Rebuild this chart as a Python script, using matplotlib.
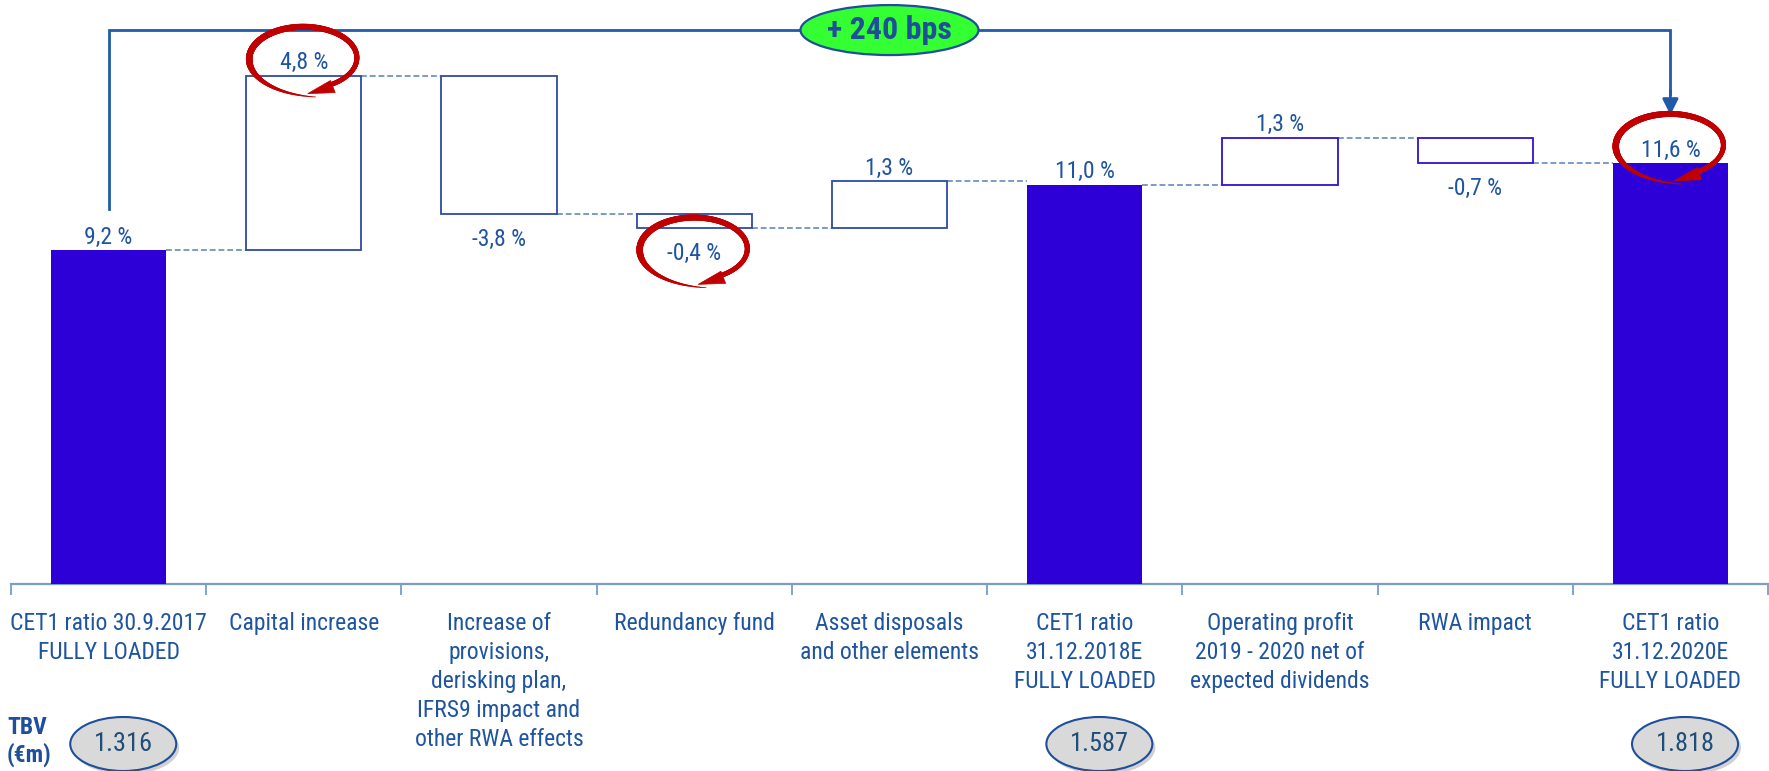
import numpy as np
import matplotlib
matplotlib.use("Agg")
import matplotlib.pyplot as plt
from matplotlib import font_manager as fm
from matplotlib.patches import Ellipse, Polygon
from matplotlib.collections import LineCollection
from matplotlib.transforms import IdentityTransform

# ---------------- data ----------------
categories = [
    "CET1 ratio 30.9.2017\nFULLY LOADED",
    "Capital increase",
    "Increase of\nprovisions,\nderisking plan,\nIFRS9 impact and\nother RWA effects",
    "Redundancy fund",
    "Asset disposals\nand other elements",
    "CET1 ratio\n31.12.2018E\nFULLY LOADED",
    "Operating profit\n2019 - 2020 net of\nexpected dividends",
    "RWA impact",
    "CET1 ratio\n31.12.2020E\nFULLY LOADED",
]
values = [9.2, 4.8, -3.8, -0.4, 1.3, 11.0, 1.3, -0.7, 11.6]
is_total = [True, False, False, False, False, True, False, False, True]
value_labels = ["9,2 %", "4,8 %", "-3,8 %", "-0,4 %", "1,3 %", "11,0 %", "1,3 %", "-0,7 %", "11,6 %"]
tbv_positions = [0, 5, 8]
tbv_values = ["1.316", "1.587", "1.818"]
tbv_title = "TBV\n(€m)"
highlight_idx = [1, 3, 8]
change_text = "+ 240 bps"
change_from, change_to = 0, 8

# ---------------- fonts ----------------
names = {f.name for f in fm.fontManager.ttflist}
FONT = next((f for f in ["Liberation Sans Narrow", "Arial Narrow", "Roboto Condensed",
                         "Open Sans Condensed", "DejaVu Sans"] if f in names), "DejaVu Sans")
plt.rcParams["font.family"] = [FONT, "DejaVu Sans"]

# ---------------- colours ----------------
TOTAL_C = "#2E00D8"
TEXT_C = "#1F55A0"
AXIS_C = "#7A9CC8"
DASH_C = "#7A9CC8"
RED_C = "#C00000"
LINE_C = "#1F5BA8"

W, H = 1769, 771
fig = plt.figure(figsize=(W / 100, H / 100), dpi=100)
PX_PER_PCT = 36.3
ax = fig.add_axes([11 / W, (H - 584) / H, 1757 / W, 584 / H])
ax.set_xlim(-0.5, 8.5)
ax.set_ylim(0, 584 / PX_PER_PCT)

BW = 0.59
x = np.arange(len(values))

# waterfall geometry
starts, ends = [], []
level = 0.0
for v, t in zip(values, is_total):
    if t:
        s, e = 0.0, v
    else:
        s, e = level, level + v
    starts.append(s)
    ends.append(e)
    level = e

for i, (s, e, t) in enumerate(zip(starts, ends, is_total)):
    if t:
        ax.bar(i, e - s, bottom=s, width=BW, color=TOTAL_C, edgecolor=TOTAL_C, lw=0, zorder=3)
    else:
        ec = "#2D4BA5" if i < 5 else "#3311CC"
        ax.bar(i, e - s, bottom=s, width=BW, facecolor="white", edgecolor=ec, lw=1.3, zorder=3)

# connectors
for i in range(len(values) - 1):
    ax.plot([i + BW / 2, i + 1 - BW / 2], [ends[i], ends[i]], color=DASH_C,
            lw=1.4, ls=(0, (3, 1.5)), zorder=2)

# value labels
label_artists = []
for i, (v, t, lab) in enumerate(zip(values, is_total, value_labels)):
    if t or v >= 0:
        y = max(starts[i], ends[i])
        a = ax.annotate(lab, (i, y), xytext=(0, 1), textcoords="offset points",
                        ha="center", va="bottom", fontsize=17, color=TEXT_C, zorder=5)
    else:
        y = min(starts[i], ends[i])
        a = ax.annotate(lab, (i, y), xytext=(0, -10), textcoords="offset points",
                        ha="center", va="top", fontsize=17, color=TEXT_C, zorder=5)
    label_artists.append(a)

# axis styling
for sp in ["top", "right", "left"]:
    ax.spines[sp].set_visible(False)
ax.spines["bottom"].set_color(AXIS_C)
ax.spines["bottom"].set_linewidth(1.6)
ax.set_yticks([])
ax.set_xticks(x)
ax.set_xticklabels(categories, fontsize=17, color=TEXT_C, linespacing=1.33)
ax.tick_params(axis="x", which="major", length=0, pad=20)
ax.set_xticks(np.arange(-0.5, len(values), 1.0), minor=True)
ax.tick_params(axis="x", which="minor", length=8, width=1.3, color=AXIS_C, direction="out")

# top bracket
y_bracket = 15.26
ax.plot([change_from, change_from, change_to, change_to],
        [values[change_from] + 1.13, y_bracket, y_bracket, values[change_to] + 1.9],
        color=LINE_C, lw=2.0, solid_joinstyle="miter", zorder=4, clip_on=False)
ax.annotate("", xy=(change_to, values[change_to] + 1.32), xytext=(change_to, values[change_to] + 2.0),
            arrowprops=dict(arrowstyle="-|>", color=LINE_C, lw=2.0, mutation_scale=24,
                            shrinkA=0, shrinkB=0), zorder=4)
xm = (change_from + change_to) / 2
ax.add_patch(Ellipse((xm, y_bracket), 178 / 195.2, 50 / PX_PER_PCT, facecolor="#33FF33",
                     edgecolor="#1F4E9A", lw=1.6, zorder=6, clip_on=False))
ax.text(xm, y_bracket, change_text, ha="center", va="center", fontsize=23,
        fontweight="bold", color="#1F4E9A", zorder=7)

# TBV ovals
y_tbv = (584 - 744) / PX_PER_PCT
for pos, val in zip(tbv_positions, tbv_values):
    ax.add_patch(Ellipse((pos + 0.09, y_tbv - 0.1), 106 / 195.2, 54 / PX_PER_PCT,
                         facecolor="#9A9A9A", edgecolor="none", alpha=0.45, zorder=1, clip_on=False))
    ax.add_patch(Ellipse((pos + 0.075, y_tbv), 106 / 195.2, 54 / PX_PER_PCT,
                         facecolor="#D9D9D9", edgecolor="#1F4E9A", lw=1.5, zorder=2, clip_on=False))
    ax.text(pos + 0.075, y_tbv, val, ha="center", va="center", fontsize=19,
            color="#1F4E79", zorder=3, clip_on=False)
fig.text(7 / W, 1 - 716 / H, tbv_title, ha="left", va="top", fontsize=17,
         fontweight="bold", color="#1F4E9A", linespacing=1.2)

# red swirl arrows around highlighted labels
fig.canvas.draw()
ren = fig.canvas.get_renderer()


def swirl(cx, cy, rx=53, ry=31):
    cy = cy + 5
    deg = np.linspace(-80, -418, 300)
    th = np.radians(deg)
    prog = (-80 - deg)  # 0 .. 338
    r = 1.0 + 0.28 * np.exp(-prog / 45.0)
    px = cx + rx * r * np.cos(th)
    py = cy + ry * r * np.sin(th)
    pts = np.column_stack([px, py])
    segs = np.stack([pts[:-1], pts[1:]], axis=1)
    p_mid = prog[:-1]
    widths = 0.5 + 4.2 * np.clip(p_mid / 90.0, 0, 1)
    widths = widths - 1.2 * np.clip((p_mid - 150) / 150.0, 0, 1)
    lc = LineCollection(segs, linewidths=widths, colors=RED_C, transform=IdentityTransform(),
                        capstyle="round", zorder=8)
    fig.add_artist(lc)
    d = pts[-1] - pts[-4]
    d = d / np.hypot(*d)
    n = np.array([-d[1], d[0]])
    p = pts[-1]
    tip = p + d * 26
    tri = Polygon([tip, p + n * 9, p - n * 4], closed=True, facecolor=RED_C,
                  edgecolor=RED_C, lw=0.5, transform=IdentityTransform(), zorder=8)
    fig.add_artist(tri)


for i in highlight_idx:
    bb = label_artists[i].get_window_extent(ren)
    swirl((bb.x0 + bb.x1) / 2, (bb.y0 + bb.y1) / 2)

fig.savefig("out.png", dpi=100)
